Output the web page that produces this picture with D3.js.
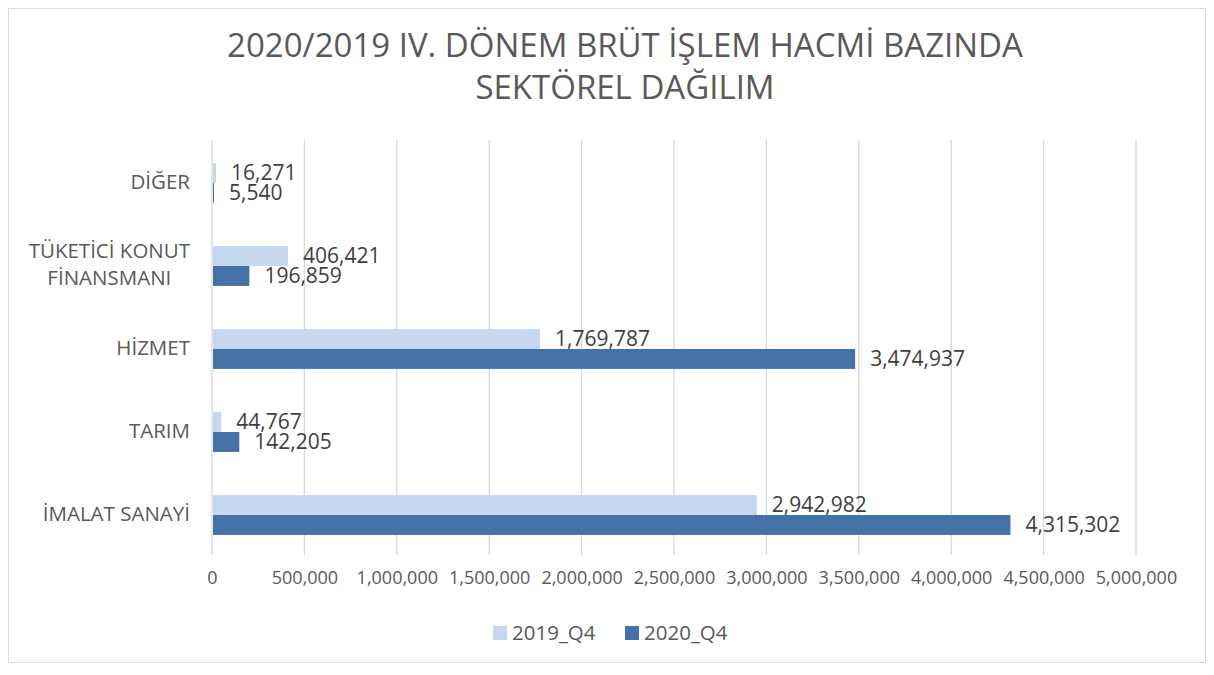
<!DOCTYPE html>
<html>
<head>
<meta charset="utf-8">
<script src="https://cdn.jsdelivr.net/npm/d3@7"></script>
<style>
    body { margin: 0; background: #fff; }
    text { font-family: 'Open Sans', 'Liberation Sans', sans-serif; }
</style>
</head>
<body>
<svg id="main" width="1214" height="675"></svg>
<script>
const width = 1214;
const height = 675;
const position = {
    left: 212,
    top: 140,
    right: 78,
    bottom: 120
};
const innerWidth = width - position.left - position.right;
const innerHeight = height - position.top - position.bottom;

const categories = ['DİĞER', 'TÜKETİCİ KONUT FİNANSMANI', 'HİZMET', 'TARIM', 'İMALAT SANAYİ'];
const categoryLines = [['DİĞER'], ['TÜKETİCİ KONUT', 'FİNANSMANI'], ['HİZMET'], ['TARIM'], ['İMALAT SANAYİ']];
const seriesNames = ['2019_Q4', '2020_Q4'];
const values2019 = [16271, 406421, 1769787, 44767, 2942982];
const values2020 = [5540, 196859, 3474937, 142205, 4315302];
const xTicks = [0, 500000, 1000000, 1500000, 2000000, 2500000, 3000000, 3500000, 4000000, 4500000, 5000000];
const titleLines = ['2020/2019 IV. DÖNEM BRÜT İŞLEM HACMİ BAZINDA', 'SEKTÖREL DAĞILIM'];

const colors = ['#c6d8ef', '#4472a6'];

const data = categories.map((c, i) => ({
    category: c,
    lines: categoryLines[i],
    values: [values2019[i], values2020[i]]
}));

const svg = d3.select('#main');

// chart border
svg.append('rect')
    .attr('x', 8.5).attr('y', 8.5)
    .attr('width', width - 17).attr('height', height - 21)
    .attr('fill', '#fff')
    .attr('stroke', '#d9d9d9');

// title
svg.append('g')
    .selectAll('text')
    .data(titleLines)
    .join('text')
    .attr('x', 625)
    .attr('y', (d, i) => 57 + i * 42)
    .attr('text-anchor', 'middle')
    .attr('font-size', 33)
    .attr('fill', '#595959')
    .text(d => d);

const mainGroup = svg
    .append('g')
    .attr('transform', `translate(${position.left}, ${position.top})`);

const x = d3.scaleLinear().domain([0, 5000000]).range([0, innerWidth]);
const y = d3.scaleBand().domain(categories).range([0, innerHeight]).paddingInner(0.52).paddingOuter(0.26);
const ySub = d3.scaleBand().domain(seriesNames).range([0, y.bandwidth()]);

// gridlines
mainGroup.append('g')
    .selectAll('line')
    .data(xTicks)
    .join('line')
    .attr('x1', d => x(d)).attr('x2', d => x(d))
    .attr('y1', 0).attr('y2', innerHeight)
    .attr('stroke', '#d9d9d9')
    .attr('stroke-width', 1.3);

// x axis labels
const xAxis = d3.axisBottom(x)
    .tickValues(xTicks)
    .tickFormat(d3.format(','))
    .tickSize(0)
    .tickPadding(16);
const xg = mainGroup.append('g')
    .attr('transform', `translate(0, ${innerHeight})`)
    .call(xAxis);
xg.select('.domain').remove();
xg.selectAll('text')
    .attr('font-family', "'Open Sans', sans-serif")
    .attr('font-size', 18)
    .attr('fill', '#595959');

// category labels: block right-aligned, lines centred inside the block
const catGroup = mainGroup.append('g')
    .selectAll('text')
    .data(data)
    .join('text')
    .attr('font-size', 20.5)
    .attr('fill', '#595959');
catGroup.each(function (d) {
    const cy = y(d.category) + y.bandwidth() / 2;
    const n = d.lines.length;
    const t = d3.select(this);
    const spans = t.selectAll('tspan')
        .data(d.lines)
        .join('tspan')
        .attr('y', (l, i) => cy + (i - (n - 1) / 2) * 27)
        .attr('dy', '0.35em')
        .text(l => l);
    const widths = spans.nodes().map(s => s.getComputedTextLength());
    const maxW = d3.max(widths);
    spans.attr('x', (l, i) => -22 - maxW / 2 - widths[i] / 2);
});

// bars
const groups = mainGroup.append('g')
    .selectAll('g')
    .data(data)
    .join('g')
    .attr('transform', d => `translate(0, ${y(d.category) + 1.5})`);

groups.selectAll('rect')
    .data(d => d.values.map((v, i) => ({ series: seriesNames[i], value: v, idx: i })))
    .join('rect')
    .attr('x', 1)
    .attr('y', d => ySub(d.series))
    .attr('width', d => x(d.value))
    .attr('height', ySub.bandwidth())
    .attr('fill', d => colors[d.idx]);

groups.selectAll('text')
    .data(d => d.values.map((v, i) => ({ series: seriesNames[i], value: v, idx: i })))
    .join('text')
    .attr('x', d => x(d.value) + 16)
    .attr('y', d => ySub(d.series) + ySub.bandwidth() / 2)
    .attr('dy', '0.35em')
    .attr('font-size', 21)
    .attr('fill', '#404040')
    .text(d => d3.format(',')(d.value));

// legend
const legend = svg.append('g')
    .selectAll('g')
    .data(seriesNames)
    .join('g')
    .attr('transform', (d, i) => `translate(${493 + i * 132}, 633)`);
legend.append('rect')
    .attr('x', 0).attr('y', -7)
    .attr('width', 14).attr('height', 14)
    .attr('fill', (d, i) => colors[i]);
legend.append('text')
    .attr('x', 19)
    .attr('dy', '0.35em')
    .attr('font-size', 20.5)
    .attr('fill', '#595959')
    .text(d => d);
</script>
</body>
</html>
